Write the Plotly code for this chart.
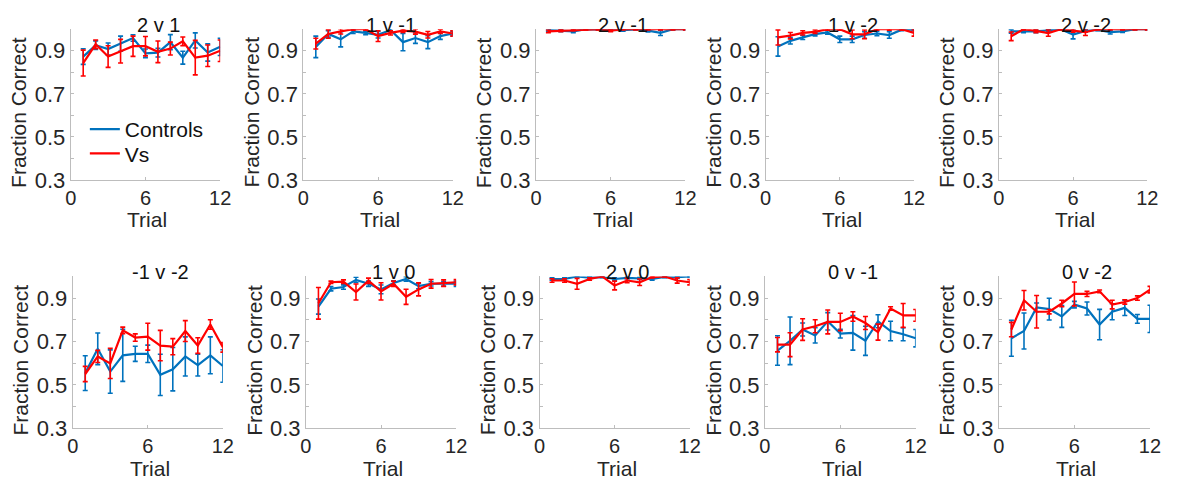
import plotly.graph_objects as go

W, H = 1181, 485

trials = list(range(1, 13))
panel_titles = ["2 v 1", "1 v -1", "2 v -1", "1 v -2", "2 v -2",
                "-1 v -2", "1 v 0", "2 v 0", "0 v -1", "0 v -2"]
y_tick_vals = [0.3, 0.4, 0.5, 0.6, 0.7, 0.8, 0.9, 1.0]
y_tick_text = ["0.3", "", "0.5", "", "0.7", "", "0.9", ""]
x_tick_vals = [0, 6, 12]
x_tick_text = ["0", "6", "12"]
series_names = ["Controls", "Vs"]

ctrl_means = [
    [0.873, 0.926, 0.908, 0.933, 0.959, 0.888, 0.891, 0.940, 0.868, 0.948, 0.892, 0.918],
    [0.918, 0.978, 0.953, 0.990, 0.983, 0.974, 0.996, 0.940, 0.959, 0.940, 0.968, 0.980],
    [0.996, 0.993, 0.990, 1.000, 1.000, 0.997, 0.996, 0.999, 0.993, 0.983, 1.000, 1.000],
    [0.920, 0.946, 0.962, 0.977, 0.985, 0.953, 0.953, 0.973, 0.980, 0.973, 0.998, 0.998],
    [0.990, 0.990, 0.990, 0.995, 1.000, 0.975, 0.992, 0.997, 0.986, 0.990, 1.000, 1.000],
    [0.554, 0.666, 0.561, 0.636, 0.643, 0.643, 0.546, 0.572, 0.631, 0.591, 0.636, 0.587],
    [0.861, 0.943, 0.951, 0.984, 0.966, 0.940, 0.970, 0.988, 0.955, 0.966, 0.966, 0.966],
    [0.988, 0.988, 1.000, 0.994, 0.997, 0.988, 0.993, 0.991, 0.988, 0.997, 0.996, 1.000],
    [0.658, 0.703, 0.755, 0.728, 0.793, 0.736, 0.740, 0.703, 0.793, 0.748, 0.733, 0.715],
    [0.715, 0.748, 0.857, 0.849, 0.815, 0.870, 0.852, 0.778, 0.837, 0.855, 0.804, 0.804],
]
ctrl_errs = [
    [0.036, 0.020, 0.028, 0.035, 0.015, 0.020, 0.020, 0.035, 0.030, 0.035, 0.040, 0.040],
    [0.050, 0.015, 0.035, 0.010, 0.008, 0.015, 0.008, 0.040, 0.025, 0.030, 0.015, 0.010],
    [0.005, 0.005, 0.006, 0.003, 0.003, 0.004, 0.005, 0.003, 0.006, 0.012, 0.003, 0.003],
    [0.045, 0.015, 0.010, 0.008, 0.008, 0.015, 0.015, 0.015, 0.010, 0.015, 0.005, 0.005],
    [0.008, 0.006, 0.006, 0.005, 0.003, 0.020, 0.006, 0.004, 0.008, 0.005, 0.003, 0.003],
    [0.080, 0.073, 0.100, 0.120, 0.035, 0.040, 0.095, 0.100, 0.090, 0.050, 0.085, 0.075],
    [0.035, 0.010, 0.010, 0.012, 0.012, 0.020, 0.010, 0.010, 0.012, 0.010, 0.010, 0.012],
    [0.005, 0.005, 0.003, 0.004, 0.003, 0.005, 0.004, 0.005, 0.005, 0.003, 0.004, 0.003],
    [0.068, 0.110, 0.030, 0.035, 0.040, 0.020, 0.080, 0.067, 0.030, 0.045, 0.030, 0.040],
    [0.083, 0.083, 0.020, 0.050, 0.050, 0.015, 0.030, 0.070, 0.037, 0.035, 0.020, 0.063],
]
vs_means = [
    [0.843, 0.930, 0.873, 0.898, 0.921, 0.921, 0.895, 0.910, 0.944, 0.868, 0.877, 0.900],
    [0.933, 0.978, 0.990, 1.000, 1.000, 0.968, 0.983, 0.993, 0.989, 0.974, 0.990, 0.980],
    [0.990, 0.993, 0.997, 1.000, 1.000, 0.993, 1.000, 1.000, 1.000, 1.000, 1.000, 1.000],
    [0.962, 0.970, 0.983, 0.988, 1.000, 1.000, 0.976, 0.976, 1.000, 1.000, 1.000, 0.983],
    [0.967, 1.000, 0.992, 0.982, 1.000, 0.994, 0.986, 1.000, 1.000, 1.000, 1.000, 1.000],
    [0.550, 0.631, 0.599, 0.751, 0.718, 0.722, 0.681, 0.676, 0.748, 0.681, 0.778, 0.673],
    [0.876, 0.973, 0.976, 0.928, 0.980, 0.931, 0.966, 0.906, 0.940, 0.966, 0.969, 0.973],
    [0.981, 0.981, 0.966, 0.988, 1.000, 0.958, 0.981, 0.973, 0.997, 1.000, 0.981, 0.973],
    [0.685, 0.685, 0.755, 0.770, 0.790, 0.790, 0.815, 0.785, 0.743, 0.852, 0.820, 0.820],
    [0.755, 0.890, 0.837, 0.837, 0.875, 0.919, 0.919, 0.931, 0.870, 0.882, 0.900, 0.939],
]
vs_errs = [
    [0.060, 0.020, 0.050, 0.055, 0.047, 0.045, 0.050, 0.030, 0.020, 0.080, 0.050, 0.050],
    [0.025, 0.020, 0.012, 0.005, 0.005, 0.025, 0.010, 0.008, 0.012, 0.015, 0.010, 0.012],
    [0.006, 0.005, 0.004, 0.003, 0.003, 0.005, 0.003, 0.003, 0.003, 0.003, 0.003, 0.003],
    [0.035, 0.015, 0.010, 0.008, 0.005, 0.005, 0.020, 0.020, 0.005, 0.005, 0.005, 0.015],
    [0.020, 0.004, 0.008, 0.015, 0.003, 0.008, 0.015, 0.003, 0.003, 0.003, 0.003, 0.003],
    [0.035, 0.028, 0.070, 0.015, 0.017, 0.062, 0.070, 0.037, 0.048, 0.036, 0.022, 0.022],
    [0.073, 0.005, 0.008, 0.037, 0.012, 0.040, 0.012, 0.035, 0.030, 0.020, 0.015, 0.012],
    [0.008, 0.008, 0.025, 0.006, 0.003, 0.020, 0.010, 0.015, 0.004, 0.003, 0.012, 0.012],
    [0.033, 0.055, 0.050, 0.030, 0.055, 0.040, 0.022, 0.030, 0.037, 0.008, 0.055, 0.027],
    [0.033, 0.045, 0.075, 0.010, 0.015, 0.055, 0.012, 0.006, 0.020, 0.010, 0.010, 0.015],
]

BLUE = "#0072BD"
RED = "#FF0000"
AXIS_GREY = "#BDBDBD"
TEXT = "#262626"
FONT = "Liberation Sans, Arial, sans-serif"

# axes pixel boxes (left, right) and rows (top, bottom)
x_boxes = [(65.7, 217.3), (301.7, 453.3), (537.7, 689.3), (770.7, 921.3), (1007.3, 1158.0),
           (67.7, 220.0), (304.3, 456.7), (541.3, 693.7), (770.0, 923.0), (1007.3, 1160.7)]
row_boxes = [(30.0, 185.0), (284.0, 440.0)]

fig = go.Figure()
legend_style = dict(xanchor="left", yanchor="middle", bgcolor="rgba(0,0,0,0)",
                    font=dict(size=21, color="#111111"), itemwidth=30)
layout = dict(
    width=W, height=H,
    margin=dict(l=0, r=0, t=0, b=0),
    paper_bgcolor="white", plot_bgcolor="white",
    font=dict(family=FONT, size=21, color=TEXT),
    showlegend=True,
    legend=dict(x=80 / W, y=1 - 133 / H, **legend_style),
    legend2=dict(x=80 / W, y=1 - 158 / H, **legend_style),
)
annotations = []

for i in range(10):
    row = i // 5
    xl, xr = x_boxes[i]
    yt, yb = row_boxes[row]
    sfx = "" if i == 0 else str(i + 1)
    xa = "x" + sfx
    ya = "y" + sfx
    layout["xaxis" + sfx] = dict(
        domain=[xl / W, xr / W], anchor=ya, range=[0, 12],
        tickvals=x_tick_vals, ticktext=x_tick_text,
        showline=True, linecolor=AXIS_GREY, linewidth=1,
        ticks="inside", ticklen=3, tickcolor=AXIS_GREY,
        showgrid=False, zeroline=False,
        tickfont=dict(size=20, color=TEXT), fixedrange=True,
    )
    layout["yaxis" + sfx] = dict(
        domain=[1 - yb / H, 1 - yt / H], anchor=xa, range=[0.3, 1.0],
        tickvals=y_tick_vals, ticktext=y_tick_text,
        showline=True, linecolor=AXIS_GREY, linewidth=1,
        ticks="inside", ticklen=3, tickcolor=AXIS_GREY,
        showgrid=False, zeroline=False,
        tickfont=dict(size=22, color=TEXT), fixedrange=True,
    )
    for name, means, errs, color, leg in (("Controls", ctrl_means[i], ctrl_errs[i], BLUE, "legend"),
                                          ("Vs", vs_means[i], vs_errs[i], RED, "legend2")):
        fig.add_trace(go.Scatter(
            x=trials, y=means, mode="lines",
            line=dict(color=color, width=2.2),
            error_y=dict(type="data", array=errs, visible=True,
                         color=color, thickness=1.6, width=2.5),
            name=name, showlegend=(i == 0), legend=leg,
            xaxis=xa, yaxis=ya, cliponaxis=False,
        ))
    cx = (xl + xr) / 2
    # panel title
    annotations.append(dict(
        text=panel_titles[i], x=(cx + 13) / W, y=1 - (yt - 4) / H,
        xref="paper", yref="paper", xanchor="center", yanchor="middle",
        showarrow=False, font=dict(size=20, color="#111111"),
    ))
    # x axis title
    annotations.append(dict(
        text="Trial", x=(cx + 2) / W, y=1 - (yb + 41) / H,
        xref="paper", yref="paper", xanchor="center", yanchor="middle",
        showarrow=False, font=dict(size=21, color=TEXT),
    ))
    # y axis title
    annotations.append(dict(
        text="Fraction Correct", x=(xl - 53) / W, y=1 - ((yt + yb) / 2 + 8) / H,
        xref="paper", yref="paper", xanchor="center", yanchor="middle",
        textangle=-90, showarrow=False, font=dict(size=21, color=TEXT),
    ))

layout["annotations"] = annotations
fig.update_layout(**layout)
fig.write_html("out.html")
